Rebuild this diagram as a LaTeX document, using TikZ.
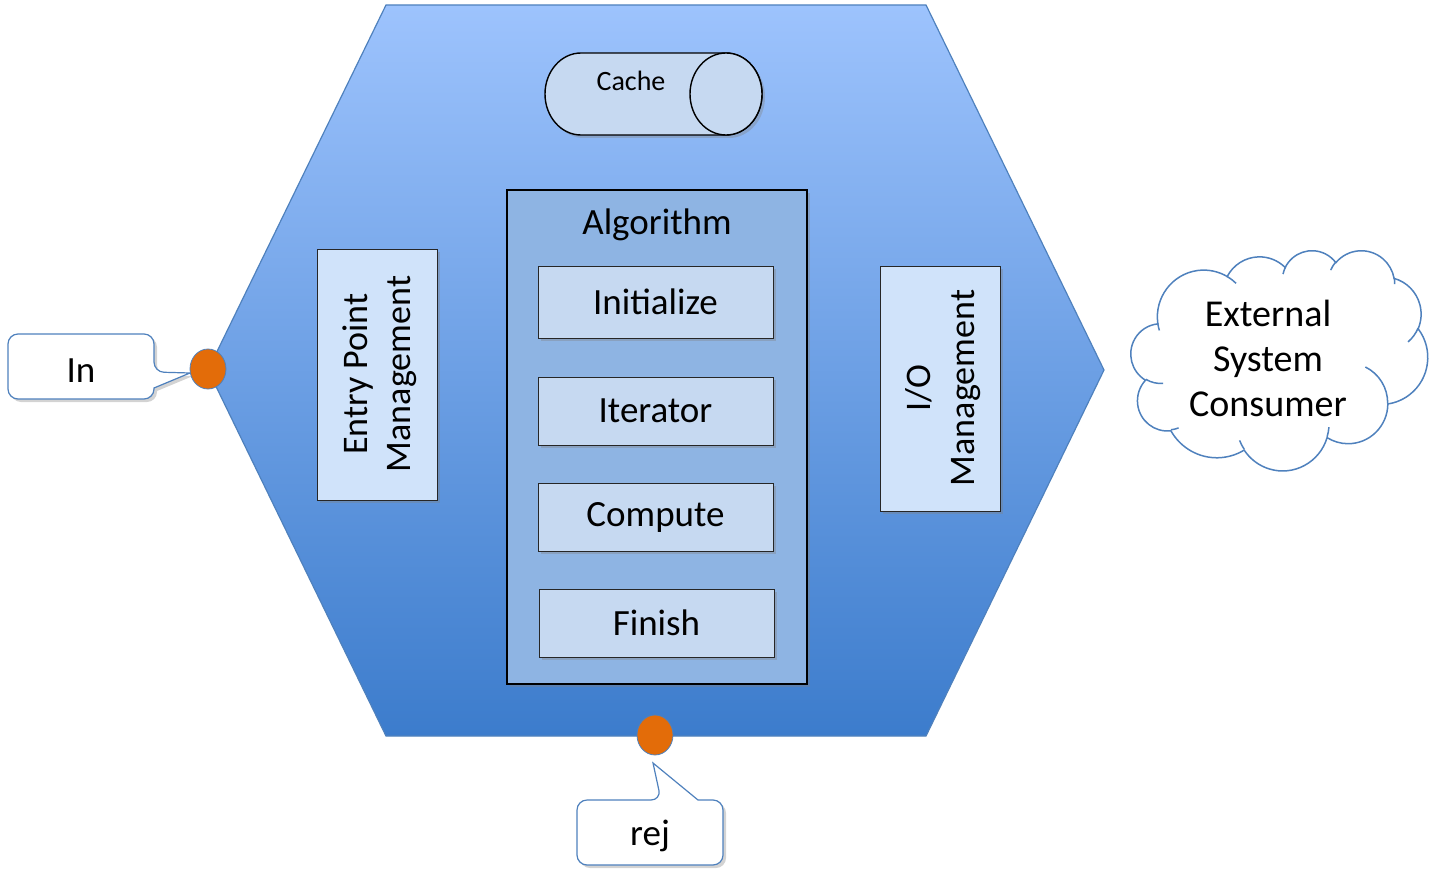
\documentclass[tikz,border=0pt]{standalone}
\usepackage{fontspec}
\setmainfont{Carlito}
\usetikzlibrary{shapes.geometric,shadows}
\definecolor{hexTop}{RGB}{157,195,253}
\definecolor{hexBot}{RGB}{60,124,204}
\definecolor{edgeBlue}{RGB}{79,129,189}
\definecolor{dotOrange}{RGB}{227,108,9}
\definecolor{lightFill}{RGB}{198,217,241}
\definecolor{algFill}{RGB}{142,180,227}
\definecolor{sideFill}{RGB}{208,227,250}
\tikzset{
  shd/.style={drop shadow={shadow xshift=1.5pt,shadow yshift=-1.5pt,opacity=0.35}},
  stepbox/.style={draw=black!85,fill=lightFill,shd,minimum width=117.5pt,minimum height=34pt,inner sep=0pt,font=\fontsize{18.5}{22}\selectfont},
  sidebox/.style={draw=black!85,fill=sideFill,shd,minimum width=60pt,inner sep=0pt},
  sidetext/.style={rotate=90,align=center,font=\fontsize{18}{21.6}\selectfont},
  callout/.style={draw=edgeBlue,fill=white,line width=0.6pt,shd},
  dot/.style={ellipse,draw=edgeBlue,fill=dotOrange,minimum width=18pt,minimum height=20pt,inner sep=0pt},
  lbl/.style={font=\fontsize{18.5}{22}\selectfont,inner sep=0pt},
  % cloud arc: wR, hR, start (visual, screen deg), sweep
  cla/.style n args={4}{insert path={arc[
    start angle={-atan2(#1*sin(#3),#2*cos(#3))},
    delta angle={-mod(atan2(#1*sin(#3+#4),#2*cos(#3+#4))-atan2(#1*sin(#3),#2*cos(#3))+720,360)},
    x radius={#1*0.0034259pt}, y radius={#2*0.0025463pt}]}},
  cloudline/.style={draw=edgeBlue,line width=0.75pt}
}
\begin{document}
\begin{tikzpicture}[x=0.5pt,y=-0.5pt]
\useasboundingbox (0,0) rectangle (1433,877);
% hexagon
\path[draw=edgeBlue,line width=0.6pt,top color=hexTop,bottom color=hexBot]
  (386,5) -- (926,5) -- (1104,370) -- (926,736) -- (386,736) -- (208,370) -- cycle;
% cache cylinder
\path[draw=black,line width=0.7pt,fill=lightFill,shd]
  (581,53) -- (726,53) arc[start angle=90,end angle=-90,x radius=18pt,y radius=20.5pt]
  -- (581,135) arc[start angle=270,end angle=90,x radius=18pt,y radius=20.5pt] -- cycle;
\draw[black,line width=0.7pt,fill=lightFill] (726,94) ellipse[x radius=18pt,y radius=20.5pt];
\node[inner sep=0pt,font=\fontsize{14}{17}\selectfont] (cache) at (631,81) {Cache};
% algorithm
\node[draw=black,line width=0.7pt,fill=algFill,minimum width=150pt,minimum height=247pt,shd] (alg) at (657,437) {};
\node[inner sep=0pt,font=\fontsize{18.5}{22}\selectfont] (algt) at (657,225) {Algorithm};
\node[stepbox,minimum height=36pt] (init) at (655.5,302) {Initialize};
\node[stepbox] (iter) at (655.5,411) {Iterator};
\node[stepbox] (comp) at (655.5,517) {Compute};
\node[stepbox] (fin) at (656.5,623) {Finish};
% side boxes
\node[sidebox,minimum height=125.5pt] (entry) at (377,374.5) {};
\node[sidetext] (entryt) at (380,374) {Entry Point\\Management};
\node[sidebox,minimum height=122.5pt] (io) at (940,388.5) {};
\node[sidetext] (iot) at (943,388) {I/O\\Management};
% callouts
\coordinate (intip) at (190,373);
\coordinate (rejtip) at (653,763);
\path[callout,rounded corners=5pt] (8,334) -- (154,334) -- (154,372) [sharp corners] -- (intip) -- (154,388) [rounded corners=5pt] -- (154,399) -- (8,399) -- cycle;
\node[lbl] (inl) at (81,371) {In};
\path[callout,rounded corners=5pt] (577,865) -- (577,800) -- (661,800) [sharp corners] -- (rejtip) -- (698,800) [rounded corners=5pt] -- (723,800) -- (723,865) -- cycle;
\node[lbl] (rejl) at (650,836) {rej};
\node[dot] (din) at (208,369) {};
\node[dot] (drej) at (655,735) {};
% cloud
\begin{scope}[shift={(1131,250)},x=0.0034259pt,y=-0.0025463pt]
\path[cloudline,fill=white] (3900,14370)
  [cla={6753}{9190}{-190.4875}{123.7805}]
  [cla={5333}{7267}{-144.1024}{89.9452}]
  [cla={4365}{5945}{-145.8079}{99.7230}]
  [cla={4857}{6595}{-130.9861}{117.2417}]
  [cla={5333}{7273}{-78.7089}{109.0269}]
  [cla={6775}{9220}{-46.2673}{130.2690}]
  [cla={5785}{7867}{0.6250}{114.0333}]
  [cla={6752}{9215}{22.4516}{115.1726}]
  [cla={7720}{10543}{66.2426}{75.7110}]
  [cla={4360}{5918}{-274.9421}{146.7356}]
  [cla={4345}{5945}{-246.8285}{152.5189}] -- cycle;
\path[cloudline] (4693,26177) [cla={4345}{5945}{86.7420}{26.4295}];
\path[cloudline] (6928,34899) [cla={4360}{5918}{73.6105}{11.4475}];
\path[cloudline] (16478,39090) [cla={6752}{9215}{137.6242}{14.0811}];
\path[cloudline] (28827,34751) [cla={6752}{9215}{6.4533}{15.9984}];
\path[cloudline] (34129,22954) [cla={5785}{7867}{-70.2924}{70.9174}];
\path[cloudline] (41798,15354) [cla={5333}{7273}{30.3180}{27.7515}];
\path[cloudline] (38324,5426) [cla={4857}{6595}{-13.7443}{14.8589}];
\path[cloudline] (29078,3952) [cla={4857}{6595}{-149.1815}{18.1954}];
\path[cloudline] (22141,4720) [cla={4365}{5945}{-163.4943}{17.6864}];
\path[cloudline] (14000,5192) [cla={6753}{9190}{-66.7070}{12.3194}];
\path[cloudline] (4127,15789) [cla={6753}{9190}{157.6544}{11.8582}];
\end{scope}
\node[align=center,font=\fontsize{19}{22.5}\selectfont] (cloudt) at (1268,358) {External\\System\\Consumer};
\end{tikzpicture}
\end{document}
